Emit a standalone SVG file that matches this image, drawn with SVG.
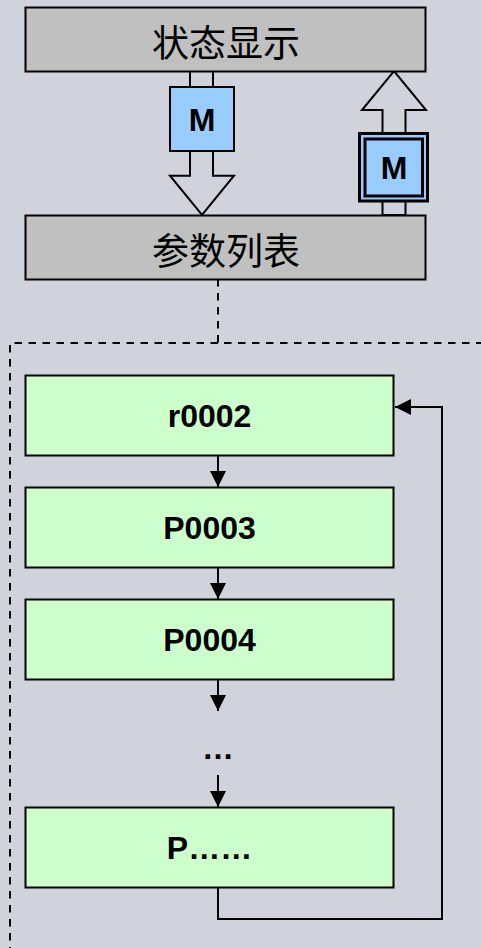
<svg xmlns="http://www.w3.org/2000/svg" width="481" height="948" viewBox="0 0 481 948">
<style>
.gray{fill:#c0c0c0;stroke:#000;stroke-width:2}
.green{fill:#ccffcc;stroke:#000;stroke-width:2}
.blue{fill:#99ccff;stroke:#000;stroke-width:2}
.big{fill:#d0d3dc;stroke:#000;stroke-width:2}
.line{fill:none;stroke:#000;stroke-width:2}
.dash{fill:none;stroke:#000;stroke-width:2;stroke-dasharray:7.500 6.500}
.cjk{font-family:"Noto Sans CJK SC","Liberation Sans",sans-serif;font-size:37px;fill:#000;text-anchor:middle}
.lat{font-family:"Liberation Sans",Arial,sans-serif;font-size:32px;font-weight:bold;fill:#000;text-anchor:middle}
</style>
<defs>
<marker id="ah" markerUnits="userSpaceOnUse" markerWidth="16" markerHeight="16" refX="16" refY="8" orient="auto"><path d="M0 0L16 8L0 16Z" fill="#000"/></marker>
</defs>
<rect width="481" height="948" fill="#d0d3dc"/>
<g id="connectors">
<path class="line" d="M218 439V487" marker-end="url(#ah)"/>
<path class="line" d="M218 551V599" marker-end="url(#ah)"/>
<path class="line" d="M218 680V711" marker-end="url(#ah)"/>
<path class="line" d="M218 775V807" marker-end="url(#ah)"/>
<path class="line" d="M218 887V919H442V407H395" marker-end="url(#ah)"/>
<path class="dash" d="M218 279V343H482"/>
<path class="dash" d="M218 343H10V948"/>
<path class="big" d="M190 71V90H213V71Z"/>
<path class="big" d="M190 148V175.700H170L202 215L234 175.700H213V148Z"/>
<path class="big" d="M382.500 215V110H362L394 71L426 110H405.500V215Z"/>
</g>
<g id="status"><rect class="gray" x="25.500" y="7.500" width="400" height="64"/><text class="cjk" x="226" y="56.500">状态显示</text></g>
<g id="params"><rect class="gray" x="25.500" y="215.500" width="400" height="64"/><text class="cjk" x="226" y="264.500">参数列表</text></g>
<g id="m1"><rect class="blue" x="170" y="87" width="64" height="64"/><text class="lat" x="202" y="131">M</text></g>
<g id="m2"><rect x="359.500" y="133.500" width="68" height="67.500" fill="#99ccff" stroke="#000" stroke-width="3"/><rect x="365" y="139" width="57.500" height="57" fill="#99ccff" stroke="#000" stroke-width="3"/><text class="lat" x="394" y="179">M</text></g>
<g id="r0002"><rect class="green" x="25.500" y="375.500" width="368" height="80"/><text class="lat" x="209.500" y="427">r0002</text></g>
<g id="p0003"><rect class="green" x="25.500" y="487.500" width="368" height="80"/><text class="lat" x="209.500" y="539">P0003</text></g>
<g id="p0004"><rect class="green" x="25.500" y="599.500" width="368" height="80"/><text class="lat" x="209.500" y="651">P0004</text></g>
<g id="ellipsis"><text class="lat" x="218" y="759">…</text></g>
<g id="pn"><rect class="green" x="25.500" y="807.500" width="368" height="80"/><text class="lat" x="209.500" y="859">P……</text></g>
</svg>
